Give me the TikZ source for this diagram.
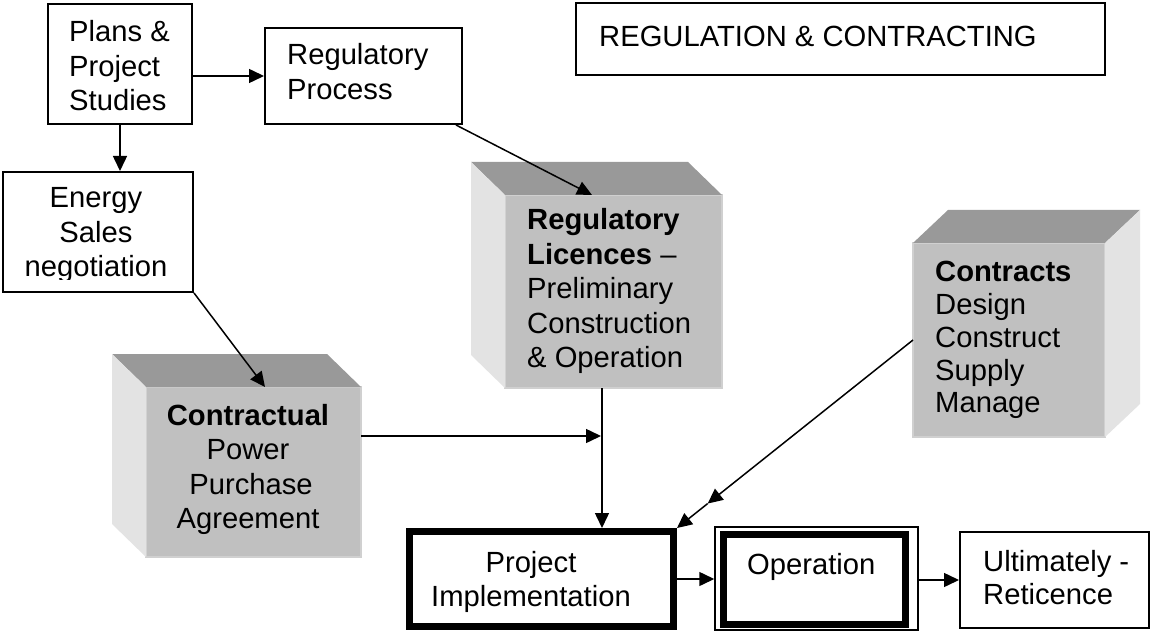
\documentclass[tikz,border=0pt]{standalone}
\usepackage{fontspec}
\setmainfont{Liberation Sans}
\usetikzlibrary{arrows.meta,calc}
\definecolor{topgray}{HTML}{999999}
\definecolor{frontgray}{HTML}{C0C0C0}
\definecolor{sidegray}{HTML}{E3E3E3}
\definecolor{edgegray}{HTML}{D0D0D0}
\newcommand{\tlines}[1]{\begin{tabular}[t]{@{}l@{}}#1\end{tabular}}
\newcommand{\clines}[1]{\begin{tabular}[t]{@{}c@{}}#1\end{tabular}}
\begin{document}
\begin{tikzpicture}[x=1pt,y=-1pt,
  box/.style={draw=black,line width=2pt,fill=white,rectangle,inner sep=0pt},
  face/.style={rectangle,fill=frontgray,draw=edgegray,line width=1.5pt,inner sep=0pt,outer sep=0pt},
  txt/.style={inner sep=0pt,font=\fontsize{29.2}{34.5}\selectfont},
  conn/.style={line width=1.5pt,-{Triangle[length=15pt,width=14pt]}},
  topface/.style={fill=topgray},
  sideface/.style={fill=sidegray},
]
\fill[white] (0,0) rectangle (1152,631);
\useasboundingbox (0,0) rectangle (1152,631);

% plain boxes
\node[box,minimum width=144pt,minimum height=120pt] (plans) at (120,64) {};
\node[txt,anchor=base west] (plansT) at (69,42) {\tlines{Plans \&\\Project\\Studies}};

\node[box,minimum width=197pt,minimum height=96pt] (regproc) at (363.5,76) {};
\node[txt,anchor=base west] (regprocT) at (287,65) {\tlines{Regulatory\\Process}};

\node[box,minimum width=190pt,minimum height=120pt] (energy) at (98,232) {};
\begin{scope}
  \clip (4,173) rectangle (192,280);
  \node[txt,anchor=base] (energyT) at (96,208) {\clines{Energy\\Sales\\negotiation}};
\end{scope}

\node[box,minimum width=529pt,minimum height=72pt] (title) at (840.5,39) {};
\node[txt,anchor=base west] (titleT) at (599,47) {REGULATION \& CONTRACTING};

% cube: Contractual
\node[face,minimum width=215pt,minimum height=170pt] (contr) at (253.5,472) {};
\fill[topface] (contr.north west) -- ++(-34,-33) -- ($(contr.north east)+(-34,-33)$) -- (contr.north east) -- cycle;
\fill[sideface] (contr.north west) -- ++(-34,-33) -- ($(contr.south west)+(-34,-33)$) -- (contr.south west) -- cycle;
\node[txt,anchor=base] (contrT) at (248,425) {\clines{\textbf{Contractual}\\Power\\\hspace{6pt}Purchase\\Agreement}};

% cube: Regulatory Licences
\node[face,minimum width=217pt,minimum height=193pt] (reglic) at (613.5,291.5) {};
\fill[topface] (reglic.north west) -- ++(-34,-33) -- ($(reglic.north east)+(-34,-33)$) -- (reglic.north east) -- cycle;
\fill[sideface] (reglic.north west) -- ++(-34,-33) -- ($(reglic.south west)+(-34,-33)$) -- (reglic.south west) -- cycle;
\node[txt,anchor=base west] (reglicT) at (527,230) {\tlines{\textbf{Regulatory}\\\textbf{Licences} --\\Preliminary\\Construction\\\& Operation}};

% cube: Contracts
\node[face,minimum width=192pt,minimum height=194pt] (contracts) at (1009,340) {};
\fill[topface] (contracts.north west) -- ++(35,-33) -- ($(contracts.north east)+(35,-33)$) -- (contracts.north east) -- cycle;
\fill[sideface] (contracts.north east) -- ++(35,-33) -- ($(contracts.south east)+(35,-33)$) -- (contracts.south east) -- cycle;
\node[txt,anchor=base west,font=\fontsize{29.2}{32.75}\selectfont] (contractsT) at (935,282) {\tlines{\textbf{Contracts}\\Design\\Construct\\Supply\\Manage}};

% bottom row
\node[draw,line width=7pt,minimum width=264pt,minimum height=95pt,inner sep=0pt] (pi) at (541.5,579) {};
\node[txt,anchor=base] (piT) at (531,572) {\clines{Project\\Implementation}};

\node[draw,line width=1.5pt,minimum width=203pt,minimum height=103pt,inner sep=0pt] (opout) at (816.5,578.5) {};
\node[draw,line width=7pt,minimum width=182pt,minimum height=90pt,inner sep=0pt] (op) at (814.5,579.5) {};
\node[txt,anchor=base west] (opT) at (747,574) {Operation};

\node[box,minimum width=189pt,minimum height=96pt] (ult) at (1054.5,580) {};
\node[txt,anchor=base west,font=\fontsize{29.2}{33}\selectfont] (ultT) at (983,571) {\tlines{Ultimately -\\Reticence}};

% connectors
\draw[conn] (plans.east |- regproc.west) -- (regproc.west);
\draw[conn] (plans.south) -- (plans.south |- energy.north);
\draw[conn] (energy.south east) -- ($(contr.north west)+(119,0)$);
\draw[conn] ($(regproc.south east)+(-7,0)$) -- ($(reglic.north west)+(87,0)$);
\coordinate (vx) at ($(reglic.south)+(-11.5,0)$);
\draw[conn] (vx) -- (vx |- pi.north);
\draw[conn] ($(contr.east)+(0,-36)$) -- ($(vx |- contr.east)+(-1,-36)$);
\coordinate (mid) at ($(contracts.west)!0.87!(pi.north east)$);
\draw[conn] (contracts.west) -- (mid);
\draw[conn] (mid) -- (pi.north east);
\draw[conn] (pi.east) -- (opout.west |- pi.east);
\draw[conn] (opout.east |- ult.west) -- (ult.west);
\end{tikzpicture}
\end{document}
